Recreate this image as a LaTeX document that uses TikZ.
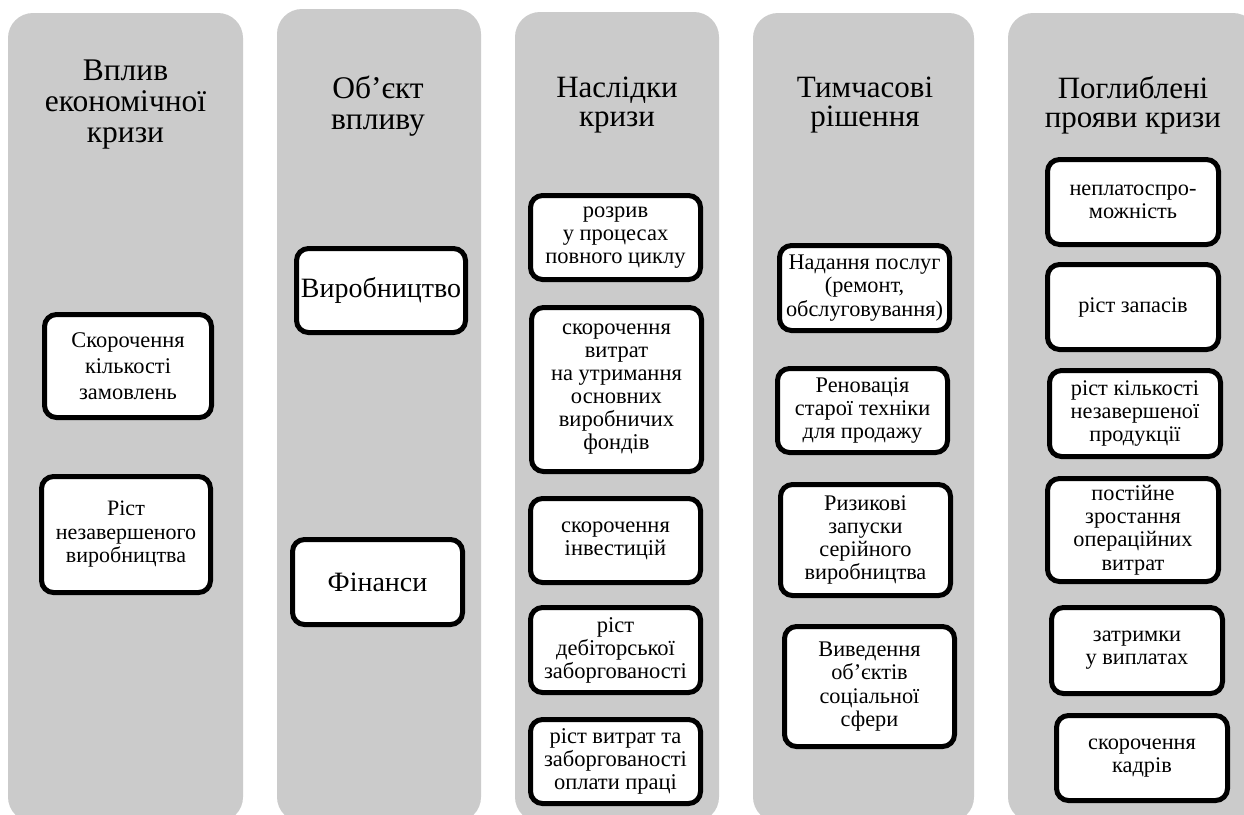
\documentclass[tikz,border=0pt]{standalone}
\usepackage{fontspec}
\setmainfont{Liberation Serif}
\definecolor{colgrey}{RGB}{203,203,203}
\tikzset{
  column/.style={fill=colgrey, draw=none, rounded corners=25pt},
  ttl/.style={align=center, inner sep=0pt},
  tA/.style={font=\fontsize{31.5}{31}\selectfont},
  tB/.style={font=\fontsize{31.5}{31}\selectfont},
  tC/.style={font=\fontsize{31}{29}\selectfont},
  itembox/.style={draw=black, fill=white, line width=5pt, rounded corners=12pt,
     align=center, inner sep=0pt},
  fA/.style={font=\fontsize{22.4}{26}\selectfont},
  fB/.style={font=\fontsize{22}{23.5}\selectfont},
  fC/.style={font=\fontsize{28}{30}\selectfont},
  fD/.style={font=\fontsize{22.5}{23}\selectfont},
  fE/.style={font=\fontsize{22.3}{23.2}\selectfont},
  fF/.style={font=\fontsize{22.3}{23.2}\selectfont}
}
\begin{document}
\begin{tikzpicture}[x=1pt,y=-1pt]
\useasboundingbox (0,0) rectangle (1244,814);
\clip (0,0) rectangle (1244,814);
% columns
\fill[column] (8,13) rectangle (243,822);
\fill[column] (277,9) rectangle (481,822);
\fill[column] (515,12) rectangle (719,822);
\fill[column] (753,13) rectangle (974,822);
\fill[column] (1008,13) rectangle (1258,822);
% titles
\node[ttl, tA] (t1) at (125.5,105) {Вплив\\економічної\\кризи};
\node[ttl, tB] (t2) at (378,106) {Об’єкт\\впливу};
\node[ttl, tC] (t3) at (617,105) {Наслідки\\кризи};
\node[ttl, tC] (t4) at (865,105) {Тимчасові\\рішення};
\node[ttl, tC] (t5) at (1133,105) {Поглиблені\\прояви кризи};
% column 1
\node[itembox, fA, minimum width=167, minimum height=103] (a1) at (128,366) {Скорочення\\кількості\\замовлень};
\node[itembox, fB, minimum width=169, minimum height=116] (a2) at (126,534.5) {Ріст\\незавершеного\\виробництва};
% column 2
\node[itembox, fC, minimum width=169, minimum height=84] (b1) at (381,290.5) {Виробництво};
\node[itembox, fC, minimum width=170, minimum height=85] (b2) at (377.5,582) {Фінанси};
% column 3
\node[itembox, fD, minimum width=170, minimum height=84] (c1) at (615.5,237.5) {розрив\\у процесах\\повного циклу};
\node[itembox, fD, minimum width=170, minimum height=164] (c2) at (616.5,389.5) {скорочення\\витрат\\на утримання\\основних\\виробничих\\фондів};
\node[itembox, fD, minimum width=170, minimum height=84] (c3) at (615.5,540.5) {скорочення\\інвестицій};
\node[itembox, fD, minimum width=170, minimum height=85] (c4) at (615.5,650) {ріст\\дебіторської\\заборгованості};
\node[itembox, fD, minimum width=170, minimum height=84] (c5) at (615.5,761.5) {ріст витрат та\\заборгованості\\оплати праці};
% column 4
\node[itembox, fE, minimum width=170, minimum height=85] (d1) at (864.5,288) {Надання послуг\\(ремонт,\\обслуговування)};
\node[itembox, fE, minimum width=170, minimum height=84] (d2) at (862.5,410.5) {Реновація\\старої техніки\\для продажу};
\node[itembox, fE, minimum width=170, minimum height=111] (d3) at (865.5,540) {Ризикові\\запуски\\серійного\\виробництва};
\node[itembox, fE, minimum width=170, minimum height=120] (d4) at (869.5,686.5) {Виведення\\об’єктів\\соціальної\\сфери};
% column 5
\node[itembox, fF, minimum width=171, minimum height=85] (e1) at (1133,202) {неплатоспро-\\можність};
\node[itembox, fF, minimum width=171, minimum height=85] (e2) at (1133,307) {ріст запасів};
\node[itembox, fF, minimum width=171, minimum height=86] (e3) at (1135,413.5) {ріст кількості\\незавершеної\\продукції};
\node[itembox, fF, minimum width=171, minimum height=103] (e4) at (1133,530) {постійне\\зростання\\операційних\\витрат};
\node[itembox, fF, minimum width=171, minimum height=86] (e5) at (1137,650.5) {затримки\\у виплатах};
\node[itembox, fF, minimum width=171, minimum height=85] (e6) at (1142,758) {скорочення\\кадрів};
\end{tikzpicture}
\end{document}
